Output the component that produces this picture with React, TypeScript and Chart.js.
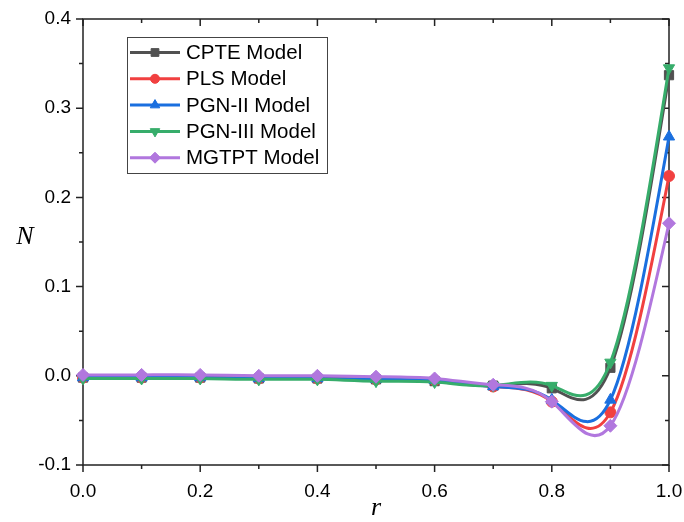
import React, { useEffect, useRef } from "react";
import { Chart, registerables } from "chart.js";
import { drawPoint } from "chart.js/helpers";

Chart.register(...registerables);

const rValues = [0, 0.1, 0.2, 0.3, 0.4, 0.5, 0.6, 0.7, 0.8, 0.9, 1.0];
const cpte = [-0.002, -0.002, -0.002, -0.003, -0.003, -0.004, -0.006, -0.011, -0.014, 0.009, 0.337];
const pls = [-0.002, -0.002, -0.002, -0.003, -0.003, -0.004, -0.005, -0.012, -0.029, -0.041, 0.224];
const pgn2 = [-0.002, -0.002, -0.002, -0.003, -0.003, -0.004, -0.005, -0.012, -0.027, -0.027, 0.268];
const pgn3 = [-0.003, -0.003, -0.003, -0.004, -0.004, -0.006, -0.007, -0.011, -0.011, 0.015, 0.345];
const mgtpt = [0.001, 0.001, 0.001, 0.0, 0.0, -0.001, -0.003, -0.010, -0.029, -0.056, 0.171];

const seriesNames = ["CPTE Model", "PLS Model", "PGN-II Model", "PGN-III Model", "MGTPT Model"];
const seriesColors = ["#515151", "#F14040", "#1A6FDF", "#37AD6B", "#B177DE"];
const seriesStyles = ["rect", "circle", "triangle", "triangle", "rectRot"];
const seriesRot = [0, 0, 0, 180, 0];
const seriesRadius = [6.5, 5.5, 6.5, 6.5, 6.5];
const seriesValues = [cpte, pls, pgn2, pgn3, mgtpt];

const xTickValues = [0, 0.2, 0.4, 0.6, 0.8, 1.0];
const yTickValues = [-0.1, 0, 0.1, 0.2, 0.3, 0.4];
const xMinorValues = [0.1, 0.3, 0.5, 0.7, 0.9];
const yMinorValues = [-0.05, 0.05, 0.15, 0.25, 0.35];
const xTitle = "r";
const yTitle = "N";

// natural cubic spline node slopes (used only to shape Chart.js bezier control points)
function splineSlopes(xs: number[], ys: number[]): number[] {
  const n = xs.length - 1;
  const h: number[] = [];
  for (let i = 0; i < n; i++) h.push(xs[i + 1] - xs[i]);
  const a: number[] = new Array(n + 1).fill(0);
  const b: number[] = new Array(n + 1).fill(1);
  const c: number[] = new Array(n + 1).fill(0);
  const d: number[] = new Array(n + 1).fill(0);
  for (let i = 1; i < n; i++) {
    a[i] = h[i - 1];
    b[i] = 2 * (h[i - 1] + h[i]);
    c[i] = h[i];
    d[i] = 6 * ((ys[i + 1] - ys[i]) / h[i] - (ys[i] - ys[i - 1]) / h[i - 1]);
  }
  // Thomas algorithm
  const cp = new Array(n + 1).fill(0);
  const dp = new Array(n + 1).fill(0);
  cp[0] = c[0] / b[0];
  dp[0] = d[0] / b[0];
  for (let i = 1; i <= n; i++) {
    const m = b[i] - a[i] * cp[i - 1];
    cp[i] = c[i] / m;
    dp[i] = (d[i] - a[i] * dp[i - 1]) / m;
  }
  const M = new Array(n + 1).fill(0);
  M[n] = dp[n];
  for (let i = n - 1; i >= 0; i--) M[i] = dp[i] - cp[i] * M[i + 1];
  const slopes: number[] = [];
  for (let i = 0; i < n; i++) {
    slopes.push((ys[i + 1] - ys[i]) / h[i] - (h[i] * (2 * M[i] + M[i + 1])) / 6);
  }
  slopes.push((ys[n] - ys[n - 1]) / h[n - 1] + (h[n - 1] * (M[n - 1] + 2 * M[n])) / 6);
  return slopes;
}

const splinePlugin = {
  id: "splineControls",
  beforeDatasetDraw(chart: any, args: any) {
    const meta = args.meta;
    const ds = chart.data.datasets[args.index];
    const xsv = ds.data.map((p: any) => p.x);
    const ysv = ds.data.map((p: any) => p.y);
    const m = splineSlopes(xsv, ysv);
    const xs = chart.scales.x;
    const ys = chart.scales.y;
    const pts = meta.data;
    for (let i = 0; i < pts.length; i++) {
      const x = xsv[i], y = ysv[i];
      if (i > 0) {
        const h = x - xsv[i - 1];
        pts[i].cp1x = xs.getPixelForValue(x - h / 3);
        pts[i].cp1y = ys.getPixelForValue(y - (m[i] * h) / 3);
      } else {
        pts[i].cp1x = pts[i].x;
        pts[i].cp1y = pts[i].y;
      }
      if (i < pts.length - 1) {
        const h = xsv[i + 1] - x;
        pts[i].cp2x = xs.getPixelForValue(x + h / 3);
        pts[i].cp2y = ys.getPixelForValue(y + (m[i] * h) / 3);
      } else {
        pts[i].cp2x = pts[i].x;
        pts[i].cp2y = pts[i].y;
      }
    }
    if (meta.dataset) {
      meta.dataset._pointsUpdated = true;
      meta.dataset._path = undefined;
    }
  },
};

const framePlugin = {
  id: "frameTicks",
  beforeDatasetsDraw(chart: any) {
    const { ctx, chartArea } = chart;
    const xs = chart.scales.x;
    const ys = chart.scales.y;
    const { left, right, top, bottom } = chartArea;
    ctx.save();
    ctx.strokeStyle = "#222";
    ctx.lineWidth = 1.5;
    ctx.strokeRect(left, top, right - left, bottom - top);
    const major = 7;
    const minor = 4;
    ctx.beginPath();
    const xt = (v: number, len: number) => {
      const px = xs.getPixelForValue(v);
      ctx.moveTo(px, bottom);
      ctx.lineTo(px, bottom + len);
      ctx.moveTo(px, top);
      ctx.lineTo(px, top + len);
    };
    const yt = (v: number, len: number) => {
      const py = ys.getPixelForValue(v);
      ctx.moveTo(left, py);
      ctx.lineTo(left - len, py);
      ctx.moveTo(right, py);
      ctx.lineTo(right - len, py);
    };
    xTickValues.forEach((v) => xt(v, major));
    xMinorValues.forEach((v) => xt(v, minor));
    yTickValues.forEach((v) => yt(v, major));
    yMinorValues.forEach((v) => yt(v, minor));
    ctx.stroke();
    ctx.restore();
  },
  afterDraw(chart: any) {
    const { ctx, chartArea } = chart;
    ctx.save();
    ctx.fillStyle = "#000";
    ctx.font = "italic 26px 'Liberation Serif', 'Times New Roman', serif";
    ctx.textAlign = "center";
    ctx.textBaseline = "middle";
    ctx.fillText(yTitle, 25, 237);
    ctx.fillText(xTitle, (chartArea.left + chartArea.right) / 2, 508);

    const bx = 127.5, by = 37.5, bw = 200, bh = 136;
    ctx.fillStyle = "#fff";
    ctx.fillRect(bx, by, bw, bh);
    ctx.strokeStyle = "#444";
    ctx.lineWidth = 1;
    ctx.strokeRect(bx, by, bw, bh);
    ctx.font = "20.5px 'Liberation Sans', Arial, sans-serif";
    ctx.textAlign = "left";
    ctx.textBaseline = "middle";
    seriesNames.forEach((name, i) => {
      const y = 52.5 + i * 26.3;
      ctx.strokeStyle = seriesColors[i];
      ctx.lineWidth = 3;
      ctx.beginPath();
      ctx.moveTo(130, y);
      ctx.lineTo(180, y);
      ctx.stroke();
      ctx.fillStyle = seriesColors[i];
      ctx.strokeStyle = seriesColors[i];
      ctx.lineWidth = 1;
      drawPoint(ctx, { pointStyle: seriesStyles[i], rotation: seriesRot[i], radius: seriesRadius[i] - 1, borderWidth: 1 }, 155, y);
      ctx.fillStyle = "#000";
      ctx.fillText(name, 186, y + 1);
    });
    ctx.restore();
  },
};

export default function App() {
  const ref = useRef<HTMLCanvasElement>(null);
  useEffect(() => {
    if (!ref.current) return;
    Chart.defaults.font.family = "'Liberation Sans', Arial, sans-serif";
    const chart = new Chart(ref.current, {
      type: "line",
      data: {
        datasets: seriesNames.map((name, i) => ({
          label: name,
          data: rValues.map((r, j) => ({ x: r, y: seriesValues[i][j] })),
          borderColor: seriesColors[i],
          backgroundColor: seriesColors[i],
          borderWidth: 3,
          pointStyle: seriesStyles[i] as any,
          pointRotation: seriesRot[i],
          pointRadius: seriesRadius[i],
          pointBorderWidth: 1,
          tension: 0.4,
          fill: false,
          clip: false as any,
          order: seriesNames.length - i,
        })),
      },
      options: {
        animation: false,
        responsive: false,
        events: [],
        layout: { padding: { top: 19, right: 15, left: 0, bottom: 0 } },
        plugins: { legend: { display: false }, tooltip: { enabled: false } },
        scales: {
          x: {
            type: "linear",
            min: 0,
            max: 1,
            grid: { display: false, drawTicks: false },
            border: { display: false },
            ticks: { color: "#000", font: { size: 19 }, padding: 15, callback: (v: any) => Number(v).toFixed(1) },
            afterBuildTicks: (s: any) => { s.ticks = xTickValues.map((v) => ({ value: v })); },
            afterFit: (s: any) => { s.height = 57; s.paddingLeft = 0; s.paddingRight = 0; },
          },
          y: {
            type: "linear",
            min: -0.1,
            max: 0.4,
            grid: { display: false, drawTicks: false },
            border: { display: false },
            ticks: { color: "#000", font: { size: 19 }, padding: 12, callback: (v: any) => Number(v).toFixed(1) },
            afterBuildTicks: (s: any) => { s.ticks = yTickValues.map((v) => ({ value: v })); },
            afterFit: (s: any) => { s.width = 83; s.paddingTop = 0; s.paddingBottom = 0; },
          },
        },
      },
      plugins: [splinePlugin, framePlugin],
    });
    return () => chart.destroy();
  }, []);
  return (
    <div style={{ position: "fixed", left: 0, top: 0, width: 684, height: 522, background: "#fff" }}>
      <canvas ref={ref} width={684} height={522} style={{ display: "block" }} />
    </div>
  );
}
